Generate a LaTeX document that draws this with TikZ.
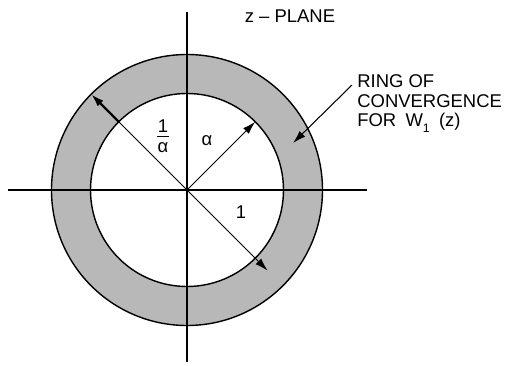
\documentclass[tikz,border=0pt]{standalone}
\usepackage{fontspec}
\setmainfont{Liberation Sans}
\usetikzlibrary{arrows.meta, positioning, calc}
\definecolor{zshade}{HTML}{B8B8B8}

\begin{document}
\begin{tikzpicture}[
    every node/.style={font=\fontsize{10.5}{11.3}\selectfont, inner sep=0pt},
    axis/.style={line width=0.8pt},
    rim/.style={line width=0.8pt},
    radius line/.style={line width=0.6pt},
    tip/.style={-{Latex[length=2.6mm,width=1.6mm]}}
  ]
    \useasboundingbox (-3.74,-3.5) rectangle (6.42,3.8);

    % ring a < |z| < 1/a
    \fill[zshade, even odd rule] (0,0) circle (2.71) (0,0) circle (1.93);
    \draw[rim] (0,0) circle (2.71);
    \draw[rim] (0,0) circle (1.93);

    % axes
    \coordinate (o) at (0,0);
    \coordinate (xl) at (-3.58,0);
    \coordinate (xr) at (3.6,0);
    \coordinate (yt) at (0,3.56);
    \coordinate (yb) at (0,-3.44);
    \draw[axis] (xl) -- (xr);
    \draw[axis] (yb) -- (yt);

    % radii
    \coordinate (ain) at (45:1.93);
    \coordinate (inv) at (135:1.93);
    \coordinate (invout) at (135:2.71);
    \coordinate (unit) at (-45:2.28);
    \draw[radius line, tip] (o) -- (ain);
    \draw[radius line] (o) -- (inv);
    \draw[line width=1.3pt, tip] (inv) -- (invout);
    \draw[radius line, tip] (o) -- (unit);

    \node[align=center, font=\fontsize{10.5}{10}\selectfont] (lblinv) at (-0.48,1.08)
      {1\\[-7.2pt]\rule{7pt}{0.7pt}\\[-1.6pt]α};
    \node (lbla) at (0.4,0.98) {α};
    \node (lblone) at (1.08,-0.44) {1};

    % labels
    \node[anchor=base] (plane) at (2.06,3.35) {z – PLANE};
    \node[anchor=north west, align=left] (ring) at (3.4,2.32)
      {RING OF\\CONVERGENCE\\FOR\enspace W\raisebox{-0.6ex}{\scriptsize 1}\enspace(z)};
    \coordinate (ringpt) at (23.9:2.32);
    \draw[radius line, tip] (3.3,2.1) coordinate (ptr) -- (ringpt);
\end{tikzpicture}
\end{document}
